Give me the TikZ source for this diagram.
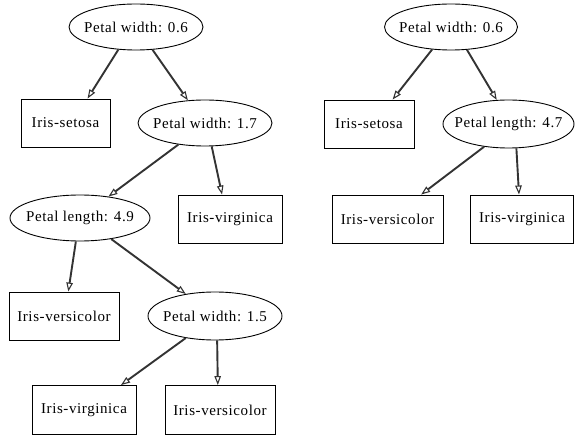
\documentclass[tikz,border=0pt]{standalone}
\usepackage{fontspec}
\setmainfont{Liberation Serif}[LetterSpace=4]
\usetikzlibrary{arrows.meta,shapes.geometric}
\newcommand\zwtxt[1]{\makebox[0pt]{#1}}
\begin{document}
\begin{tikzpicture}[x=1pt,y=-1pt,
  every node/.style={font=\fontsize{15}{17}\selectfont, inner sep=0pt},
  test/.style={draw, line width=0.9pt, ellipse, minimum width=134pt, minimum height=46pt},
  leaf/.style={draw, line width=0.9pt, rectangle, minimum height=48pt},
  edge/.style={line width=1.9pt, draw=black!80, -{Triangle[open,length=9pt,width=6.5pt,line width=1.1pt]}}]
\useasboundingbox (0,0) rectangle (575,435);
% left tree
\node[test] (a) at (136,27) {\zwtxt{Petal width: 0.6}};
\node[leaf, minimum width=89pt] (b) at (65.5,123) {Iris-setosa};
\node[test] (c) at (205,123) {\zwtxt{Petal width: 1.7}};
\node[test, minimum width=140pt] (d) at (80,218) {\zwtxt{Petal length: 4.9}};
\node[leaf, minimum width=104pt] (e) at (230,219) {Iris-virginica};
\node[leaf, minimum width=110pt] (f) at (64,316) {Iris-versicolor};
\node[test, minimum height=48pt] (g) at (215,316) {\zwtxt{Petal width: 1.5}};
\node[leaf, minimum width=104pt, minimum height=49pt] (h) at (84,410) {Iris-virginica};
\node[leaf, minimum width=110pt, minimum height=49pt] (i) at (220,410) {Iris-versicolor};
\draw[edge] (a.232) -- (b.48);
\draw[edge] (a.306) -- (c.127);
\draw[edge] (c.219) -- (d.37);
\draw[edge] (c.286) -- (e.108);
\draw[edge] (d.260) -- (f.80);
\draw[edge] (d.326) -- (g.143);
\draw[edge] (g.217) -- (h.34);
\draw[edge] (g.275) -- (i.95);
% right tree
\node[test, minimum width=133pt] (ra) at (451,27) {\zwtxt{Petal width: 0.6}};
\node[leaf, minimum width=90pt] (rb) at (369,124) {Iris-setosa};
\node[test, minimum width=131pt, minimum height=48pt] (rc) at (508.5,124) {\zwtxt{Petal length: 4.7}};
\node[leaf, minimum width=111pt] (rd) at (387.5,219) {Iris-versicolor};
\node[leaf, minimum width=103pt] (re) at (522,219) {Iris-virginica};
\draw[edge] (ra.230) -- (rb.46);
\draw[edge] (ra.305) -- (rc.116);
\draw[edge] (rc.223) -- (rd.36);
\draw[edge] (rc.288) -- (re.97);
\end{tikzpicture}
\end{document}
